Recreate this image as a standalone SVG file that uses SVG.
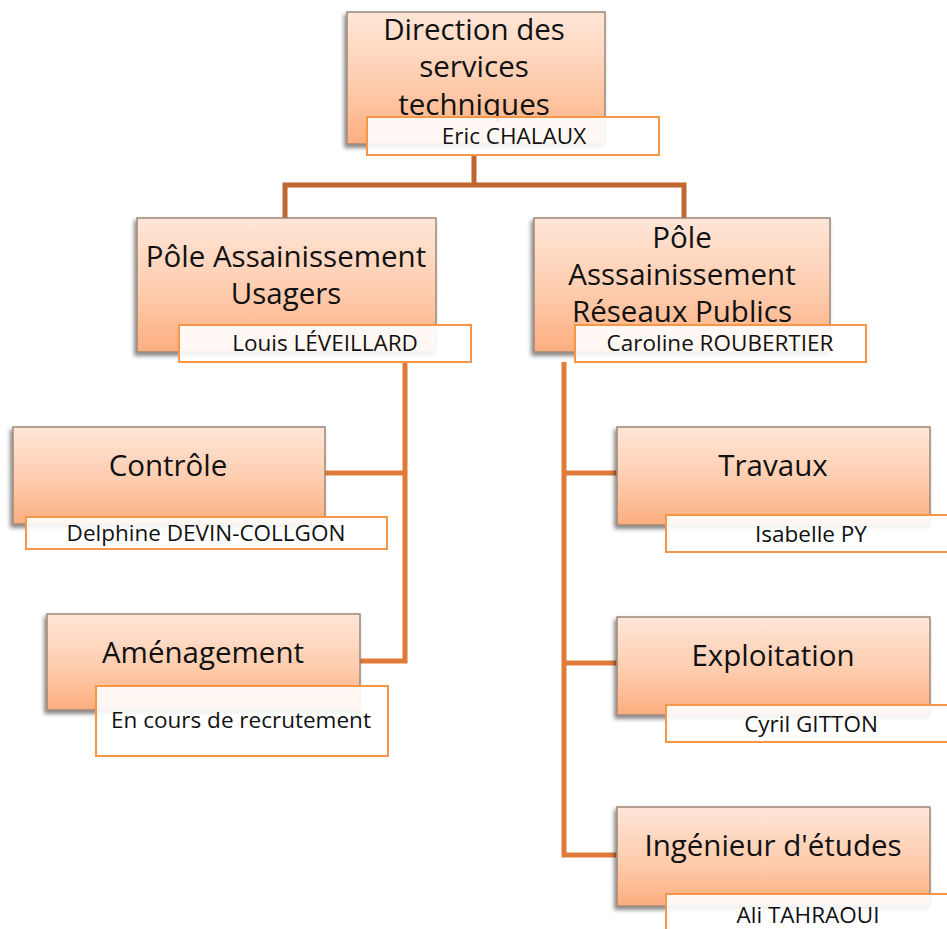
<svg xmlns="http://www.w3.org/2000/svg" width="947" height="929" viewBox="0 0 947 929">
<defs>
<linearGradient id="g" x1="0" y1="0" x2="0" y2="1">
<stop offset="0" stop-color="#FFE6D8"/>
<stop offset="0.55" stop-color="#FECCAE"/>
<stop offset="1" stop-color="#FCAE7E"/>
</linearGradient>
<filter id="sh" x="-10%" y="-10%" width="120%" height="130%">
<feDropShadow dx="-2" dy="3" stdDeviation="2" flood-color="#000" flood-opacity="0.5"/>
</filter>
</defs>
<style>
.box{fill:url(#g);stroke:#9C8878;stroke-width:1.5;filter:url(#sh)}
.lab{fill:#fff;fill-opacity:0.9;stroke:#F79646;stroke-width:2}
.t{font-family:"Open Sans","Liberation Sans",sans-serif;font-size:29.5px;fill:#111;text-anchor:middle}
.s{font-family:"Open Sans","Liberation Sans",sans-serif;font-size:22.5px;fill:#111;text-anchor:middle}
.c{fill:none;stroke:#E07B39;stroke-width:5}
.c2{fill:none;stroke:#C0672F;stroke-width:5}
</style>
<g id="connectors">
<path class="c2" d="M474 155V185M285 218V185H684V218"/>
<path class="c" d="M405 362V661H360M405 473H325"/>
<path class="c" d="M564 362V855H618M564 473H618M564 663H618"/>
</g>
<g id="n-direction">
<rect class="box" x="347" y="12" width="258" height="132"/>
<text class="t" x="474" y="40">Direction des</text>
<text class="t" x="474" y="77">services</text>
<text class="t" x="474" y="115">techniques</text>
<rect class="lab" x="367" y="117" width="292" height="38"/>
<text class="s" x="514" y="144">Eric CHALAUX</text>
</g>
<g id="n-usagers">
<rect class="box" x="137" y="218" width="299" height="134"/>
<text class="t" x="286" y="267">Pôle Assainissement</text>
<text class="t" x="286" y="304">Usagers</text>
<rect class="lab" x="179" y="325" width="292" height="37"/>
<text class="s" x="325" y="351">Louis LÉVEILLARD</text>
</g>
<g id="n-reseaux">
<rect class="box" x="534" y="218" width="296" height="134"/>
<text class="t" x="682" y="248">Pôle</text>
<text class="t" x="682" y="285">Asssainissement</text>
<text class="t" x="682" y="322">Réseaux Publics</text>
<rect class="lab" x="575" y="325" width="291" height="37"/>
<text class="s" x="720" y="351">Caroline ROUBERTIER</text>
</g>
<g id="n-controle">
<rect class="box" x="13" y="427" width="312" height="97"/>
<text class="t" x="168" y="476">Contrôle</text>
<rect class="lab" x="26" y="517" width="361" height="32"/>
<text class="s" x="206" y="541">Delphine DEVIN-COLLGON</text>
</g>
<g id="n-amenagement">
<rect class="box" x="47" y="614" width="313" height="96"/>
<text class="t" x="203" y="663">Aménagement</text>
<rect class="lab" x="96" y="686" width="292" height="70"/>
<text class="s" x="241" y="728">En cours de recrutement</text>
</g>
<g id="n-travaux">
<rect class="box" x="617" y="427" width="313" height="98"/>
<text class="t" x="773" y="476">Travaux</text>
<rect class="lab" x="666" y="515" width="290" height="37"/>
<text class="s" x="811" y="542">Isabelle PY</text>
</g>
<g id="n-exploitation">
<rect class="box" x="617" y="617" width="313" height="98"/>
<text class="t" x="773" y="666">Exploitation</text>
<rect class="lab" x="666" y="705" width="290" height="37"/>
<text class="s" x="811" y="732">Cyril GITTON</text>
</g>
<g id="n-ingenieur">
<rect class="box" x="617" y="807" width="313" height="99"/>
<text class="t" x="773" y="856">Ingénieur d'études</text>
<rect class="lab" x="666" y="894" width="290" height="50"/>
<text class="s" x="808" y="923">Ali TAHRAOUI</text>
</g>
</svg>
